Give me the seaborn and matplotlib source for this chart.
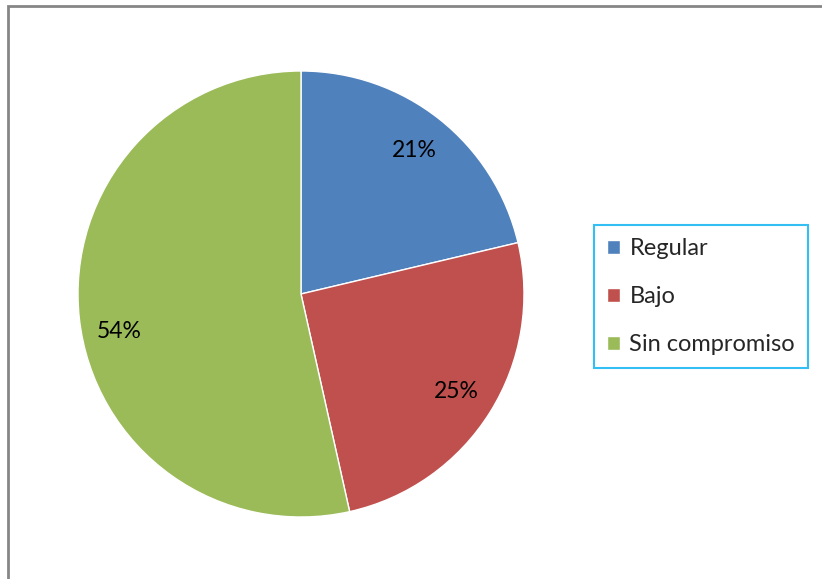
import matplotlib
matplotlib.use("Agg")
import matplotlib.pyplot as plt
import seaborn as sns
from matplotlib.patches import Rectangle

categories = ['Regular', 'Bajo', 'Sin compromiso']
values = [21.3, 25.2, 53.5]
colors = ['#4F81BD', '#C0504D', '#9BBB59']

sns.set_theme(style='white')
plt.rcParams['font.family'] = ['Lato', 'DejaVu Sans']

fig = plt.figure(figsize=(8.22, 5.79), dpi=100)
# pie area: centre (301, 294) px, radius 223 px
ax = fig.add_axes([(301 - 223) / 822, 1 - (294 + 223) / 579, 446 / 822, 446 / 579])
wedges, texts, autotexts = ax.pie(values, colors=colors, startangle=90, counterclock=False,
                                  autopct='%1.0f%%', pctdistance=0.82,
                                  textprops={'fontsize': 16.5, 'color': 'black'})
ax.set_aspect('equal')
ax.set_xlim(-1, 1)
ax.set_ylim(-1, 1)
# Excel's best-fit puts the big slice label a bit lower
x, y = autotexts[2].get_position()
autotexts[2].set_position((x, y - 0.08))

leg = fig.legend(wedges, categories, loc='upper left',
                 bbox_to_anchor=(594 / 822, 1 - 220 / 579), bbox_transform=fig.transFigure,
                 fontsize=17, frameon=True, fancybox=False, handlelength=0.55, handleheight=0.55,
                 handletextpad=0.4, labelspacing=1.15, borderpad=0.55, borderaxespad=0)
leg.get_frame().set_edgecolor('#00B0F0')
leg.get_frame().set_linewidth(1.5)
# nudge the whole box slightly lower so rows line up
leg.set_bbox_to_anchor((594 / 822, 1 - 225 / 579), transform=fig.transFigure)

# outer chart border
fig.patches.append(Rectangle((8 / 822, -0.05), 1.0, 1 - 6 / 579 + 0.05, transform=fig.transFigure,
                             fill=False, edgecolor='#868686', linewidth=2))

fig.savefig('out.png', dpi=100)
